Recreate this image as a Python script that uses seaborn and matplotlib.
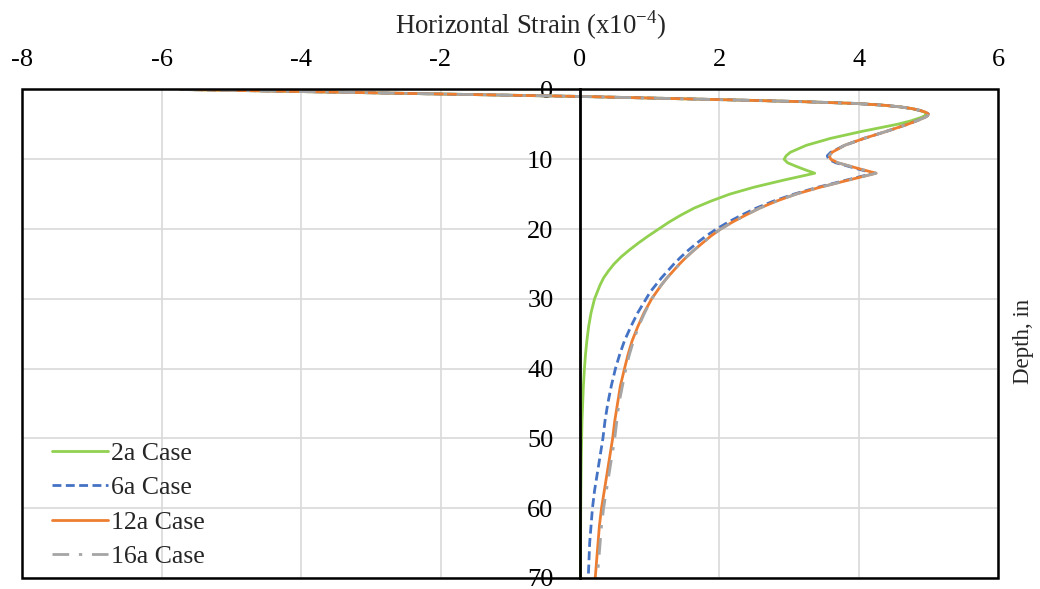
import matplotlib
matplotlib.use("Agg")
import matplotlib.pyplot as plt
from matplotlib.patches import Rectangle
import pandas as pd
import seaborn as sns

# Depth below surface (in) at which strains are reported
depth = [0, 0.5, 1, 1.25, 1.5, 1.75, 2, 2.25, 2.5, 2.75, 3, 3.25, 3.5, 3.75,
         4, 4.5, 5, 6, 7, 8, 9, 9.5, 10, 10.5, 11, 11.5, 12, 13, 14, 15, 16,
         17, 18, 19, 20, 21, 22, 23, 24, 25, 26, 27, 28, 29, 30, 32, 34, 36,
         38, 40, 42.5, 45, 47.5, 50, 52.5, 55, 57.5, 60, 62.5, 65, 67.5, 70]

# Horizontal strain (x10^-4) for each loading case
strain_2a = [-5.73, -2.85, 0.0, 1.1, 2.2, 3.2, 3.95, 4.35, 4.6, 4.77, 4.87,
             4.95, 4.97, 4.95, 4.9, 4.75, 4.55, 4.05, 3.6, 3.25, 3.02, 2.96,
             2.93, 2.98, 3.1, 3.23, 3.37, 2.92, 2.5, 2.15, 1.88, 1.64, 1.45,
             1.28, 1.13, 0.98, 0.84, 0.71, 0.59, 0.49, 0.41, 0.34, 0.29, 0.25,
             0.21, 0.16, 0.125, 0.1, 0.08, 0.065, 0.05, 0.04, 0.03, 0.025,
             0.02, 0.017, 0.014, 0.012, 0.011, 0.01, 0.01, 0.01]
strain_6a = [-5.73, -2.85, 0.0, 1.1, 2.2, 3.2, 3.95, 4.35, 4.6, 4.77, 4.88,
             4.96, 5.0, 4.99, 4.95, 4.83, 4.7, 4.4, 4.08, 3.8, 3.6, 3.55,
             3.57, 3.67, 3.85, 4.03, 4.22, 3.82, 3.42, 3.07, 2.78, 2.53, 2.32,
             2.13, 1.96, 1.81, 1.68, 1.56, 1.45, 1.35, 1.26, 1.17, 1.09, 1.01,
             0.95, 0.83, 0.73, 0.64, 0.57, 0.51, 0.45, 0.4, 0.36, 0.33, 0.29,
             0.25, 0.21, 0.18, 0.16, 0.14, 0.13, 0.12]
strain_12a = [-5.73, -2.85, 0.0, 1.1, 2.2, 3.2, 3.95, 4.35, 4.6, 4.77, 4.88,
              4.96, 5.0, 4.99, 4.95, 4.83, 4.7, 4.4, 4.08, 3.8, 3.62, 3.58,
              3.6, 3.7, 3.88, 4.06, 4.25, 3.85, 3.45, 3.1, 2.82, 2.58, 2.38,
              2.19, 2.02, 1.88, 1.76, 1.64, 1.53, 1.43, 1.34, 1.25, 1.17, 1.1,
              1.03, 0.92, 0.83, 0.75, 0.69, 0.64, 0.58, 0.54, 0.5, 0.47, 0.43,
              0.39, 0.35, 0.31, 0.28, 0.26, 0.24, 0.22]
strain_16a = [-5.73, -2.85, 0.0, 1.1, 2.2, 3.2, 3.95, 4.35, 4.6, 4.77, 4.88,
              4.96, 5.0, 4.99, 4.95, 4.83, 4.7, 4.4, 4.08, 3.8, 3.62, 3.58,
              3.6, 3.7, 3.88, 4.06, 4.25, 3.85, 3.45, 3.1, 2.82, 2.58, 2.38,
              2.19, 2.02, 1.88, 1.76, 1.64, 1.53, 1.43, 1.34, 1.25, 1.17, 1.1,
              1.03, 0.93, 0.84, 0.77, 0.71, 0.66, 0.61, 0.56, 0.53, 0.5, 0.46,
              0.42, 0.38, 0.34, 0.31, 0.29, 0.27, 0.25]

cases = ["2a Case", "6a Case", "12a Case", "16a Case"]
series = [strain_2a, strain_6a, strain_12a, strain_16a]

x_ticks = [-8, -6, -4, -2, 0, 2, 4, 6]
y_ticks = [0, 10, 20, 30, 40, 50, 60, 70]

df = pd.concat(
    [pd.DataFrame({"strain": s, "depth": depth, "case": c})
     for c, s in zip(cases, series)],
    ignore_index=True,
)

sns.set_theme(style="white")
plt.rcParams["font.family"] = ["Liberation Serif", "DejaVu Serif"]
plt.rcParams["axes.unicode_minus"] = False

palette = {"2a Case": "#92D050", "6a Case": "#4472C4",
           "12a Case": "#ED7D31", "16a Case": "#A5A5A5"}
dashes = {"2a Case": "", "6a Case": (3.2, 1.6),
          "12a Case": "", "16a Case": (6, 3.5, 1.2, 3.5)}

fig = plt.figure(figsize=(10.4, 5.89), dpi=100)
ax = fig.add_axes([0.0216, 0.0187, 0.938, 0.8294])

sns.lineplot(data=df, x="strain", y="depth", hue="case", style="case",
             hue_order=cases, style_order=cases, palette=palette,
             dashes=dashes, sort=False, estimator=None, linewidth=2.0,
             ax=ax)

ax.set_xlim(-8, 6)
ax.set_ylim(70, 0)
ax.set_xticks(x_ticks)
ax.set_yticks(y_ticks)
ax.xaxis.tick_top()
ax.grid(True, color="#d9d9d9", linewidth=1.2)
ax.set_axisbelow(True)

fs = 19
ax.tick_params(axis="x", length=0, pad=13, labelsize=fs, labelcolor="black")
ax.tick_params(axis="y", length=0, pad=19, labelsize=fs, labelcolor="black")

# vertical axis drawn through zero strain, box around the plotting area
for side in ["top", "right", "bottom"]:
    ax.spines[side].set_visible(False)
ax.spines["left"].set_position(("data", 0))
ax.spines["left"].set_color("black")
ax.spines["left"].set_linewidth(2.0)
ax.add_patch(Rectangle((0, 0), 1, 1, transform=ax.transAxes, fill=False,
                       edgecolor="black", linewidth=1.8, clip_on=False,
                       zorder=5))

ax.set_xlabel("Horizontal Strain (x10$^{\\mathregular{-4}}$)", fontsize=19.3)
ax.xaxis.set_label_position("top")
ax.xaxis.set_label_coords(0.521, 1.115)
ax.set_ylabel("Depth, in", fontsize=16.5, rotation=90)
ax.yaxis.set_label_coords(1.037, 0.485)

handles, labels = ax.get_legend_handles_labels()
ax.legend(handles, labels, loc="lower left", bbox_to_anchor=(0.014, -0.012),
          frameon=False, fontsize=18.5, handlelength=2.2, handletextpad=0.12,
          labelspacing=0.45, borderaxespad=0.2)

fig.savefig("out.png", dpi=100)
